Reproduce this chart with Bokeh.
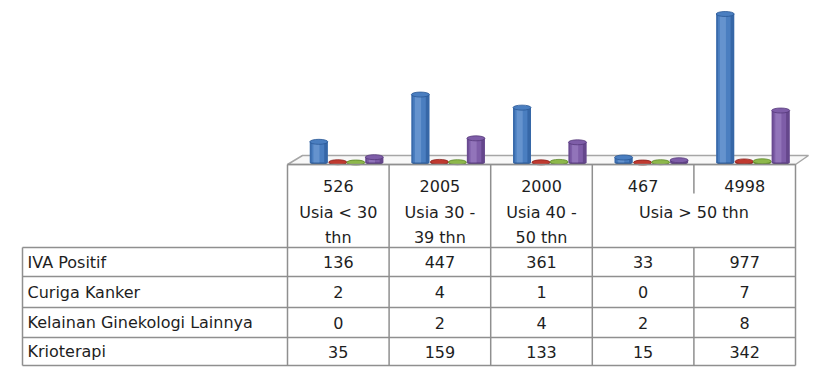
from bokeh.plotting import figure
from bokeh.models import Range1d
from bokeh.embed import file_html
from bokeh.resources import INLINE
from bokeh.core.properties import value

# ---------------- data ----------------
totals = [526, 2005, 2000, 467, 4998]
group_labels = [["Usia < 30", "thn"], ["Usia 30 -", "39 thn"], ["Usia 40 -", "50 thn"], ["Usia > 50 thn"]]
group_spans = [1, 1, 1, 2]
series_names = ["IVA Positif", "Curiga Kanker", "Kelainan Ginekologi Lainnya", "Krioterapi"]
iva_positif = [136, 447, 361, 33, 977]
curiga_kanker = [2, 4, 1, 0, 7]
kelainan_lain = [0, 2, 4, 2, 8]
krioterapi = [35, 159, 133, 15, 342]
series_values = [iva_positif, curiga_kanker, kelainan_lain, krioterapi]
series_colors = ["#4A7EC0", "#C0392F", "#8DB84A", "#7E5DA8"]
series_dark = ["#2A5896", "#8E2420", "#5F8A2A", "#55397A"]
series_light = ["#7FA8DC", "#D86A62", "#B2D47A", "#A68BCB"]

# ---------------- layout (pixels) ----------------
W, H = 814, 370
COL_W = 101.6
TABLE_X0 = 287.0
LABEL_X0 = 22.0
BASE_PY = 162.0
PX_PER_UNIT = 0.152
BAR_OFFSETS_PX = [-19.5, -0.5, 17.5, 36.0]
BAR_W_PX = 18.0
HEADER_TOP = 164.0
ROW_LINES = [247.0, 276.0, 307.0, 337.0, 365.0]
TOTAL_Y = 185.0
GROUP_LINE_Y = [212.0, 237.0]
FONT = "DejaVu Sans"
FONT_SIZE = "16px"
TEXT_COLOR = "#1e1e1e"
GRID_COLOR = "#8f8f8f"

def cx(px):
    return (px - TABLE_X0) / COL_W

p = figure(width=W, height=H, output_backend="svg", toolbar_location=None,
           x_axis_type=None, y_axis_type=None, min_border=0,
           x_range=Range1d(cx(0), cx(W)),
           y_range=Range1d(-(H - BASE_PY) / PX_PER_UNIT, BASE_PY / PX_PER_UNIT))
p.extra_y_ranges = {"tbl": Range1d(H, 0)}
p.grid.visible = False
p.outline_line_color = None
p.background_fill_color = "white"
p.border_fill_color = "white"

# floor of the 3D plot area
fl = [cx(TABLE_X0), cx(TABLE_X0 + 15), cx(795 + 13), cx(795)]
p.patch(fl, [HEADER_TOP, 155, 155, HEADER_TOP], y_range_name="tbl",
        fill_color="#f8f8f8", line_color="#a6a6a6", line_width=1.5)

# cylinders
n = len(totals)
bw = BAR_W_PX / COL_W
for s, vals in enumerate(series_values):
    xs = [i + 0.5 + BAR_OFFSETS_PX[s] / COL_W for i in range(n)]
    p.ellipse(x=xs, y=[0] * n, width=bw, height=5, height_units="screen",
              fill_color=series_dark[s], line_color=None)
    p.vbar(x=xs, bottom=0, top=vals, width=bw, fill_color=series_colors[s], line_color=None)
    p.vbar(x=[x - bw * 0.13 for x in xs], bottom=0, top=vals, width=bw * 0.34,
           fill_color=series_light[s], fill_alpha=0.5, line_color=None)
    p.vbar(x=[x + bw * 0.40 for x in xs], bottom=0, top=vals, width=bw * 0.2,
           fill_color=series_dark[s], fill_alpha=0.6, line_color=None)
    p.vbar(x=[x - bw * 0.45 for x in xs], bottom=0, top=vals, width=bw * 0.1,
           fill_color=series_dark[s], fill_alpha=0.5, line_color=None)
    p.ellipse(x=xs, y=vals, width=bw, height=5, height_units="screen",
              fill_color=series_colors[s], line_color=series_dark[s], line_width=0.8)

# table grid
x_left, x_t0, x_t5 = cx(LABEL_X0), 0.0, float(n)
hx0, hx1, hy = [x_t0], [x_t5], [HEADER_TOP]
for y in ROW_LINES:
    hx0.append(x_left); hx1.append(x_t5); hy.append(y)
p.segment(x0=hx0, y0=hy, x1=hx1, y1=hy, y_range_name="tbl", line_color=GRID_COLOR, line_width=1.5)

vx, vy0, vy1 = [x_left], [ROW_LINES[0]], [ROW_LINES[-1]]
bounds = [0]
for sp in group_spans:
    bounds.append(bounds[-1] + sp)
for c in range(n + 1):
    if c in bounds:
        vx.append(float(c)); vy0.append(HEADER_TOP); vy1.append(ROW_LINES[-1])
    else:
        vx += [float(c), float(c)]; vy0 += [HEADER_TOP, ROW_LINES[0]]; vy1 += [193.0, ROW_LINES[-1]]
p.segment(x0=vx, y0=vy0, x1=vx, y1=vy1, y_range_name="tbl", line_color=GRID_COLOR, line_width=1.5)

tstyle = dict(y_range_name="tbl", text_font=value(FONT), text_font_size=FONT_SIZE,
              text_color=TEXT_COLOR, text_baseline="middle")

# header totals
p.text(x=[i + 0.5 for i in range(n)], y=[TOTAL_Y] * n, text=[str(t) for t in totals],
       text_align="center", **tstyle)
# group labels
gx, gy, gt = [], [], []
for g, lines in enumerate(group_labels):
    center = bounds[g] + group_spans[g] / 2
    for k, line in enumerate(lines):
        gx.append(center); gy.append(GROUP_LINE_Y[k]); gt.append(line)
p.text(x=gx, y=gy, text=gt, text_align="center", **tstyle)

# rows
row_centers = [(ROW_LINES[r] + ROW_LINES[r + 1]) / 2 for r in range(len(series_names))]
p.text(x=[cx(LABEL_X0 + 5)] * len(series_names), y=row_centers, text=series_names,
       text_align="left", **tstyle)
vx2, vy2, vt2 = [], [], []
for r, vals in enumerate(series_values):
    for i, v in enumerate(vals):
        vx2.append(i + 0.5); vy2.append(row_centers[r]); vt2.append(str(v))
p.text(x=vx2, y=vy2, text=vt2, text_align="center", **tstyle)

open("out.html", "w").write(file_html(p, INLINE))
